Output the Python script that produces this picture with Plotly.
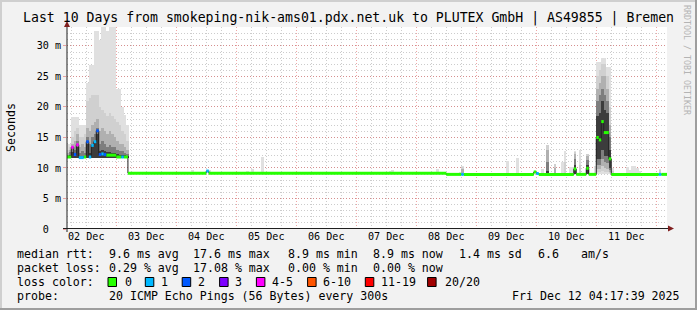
import plotly.graph_objects as go
import pandas as pd

# ---------------- data ----------------
t_start = "2025-12-02 04:17:39"
t_end = "2025-12-12 04:17:39"

title_text = "Last 10 Days from smokeping-nik-ams01.pdx.net.uk to PLUTEX GmbH | AS49855 | Bremen"

y_tickvals = [0, 5, 10, 15, 20, 25, 30]
y_ticktext = ["0\u00a0\u00a0", "5 m", "10 m", "15 m", "20 m", "25 m", "30 m"]

# median rtt (ms) as step segments: segment start, value, loss bucket
med_t = ["2025-12-02 04:00", "2025-12-02 06:00", "2025-12-02 07:00", "2025-12-02 08:00",
         "2025-12-02 09:00", "2025-12-02 11:00", "2025-12-02 12:00", "2025-12-02 13:00",
         "2025-12-02 14:00", "2025-12-02 15:00", "2025-12-02 16:00", "2025-12-02 17:00",
         "2025-12-02 18:00", "2025-12-02 19:00", "2025-12-02 20:00", "2025-12-03 00:00",
         "2025-12-03 02:00", "2025-12-03 03:00", "2025-12-03 04:40", "2025-12-04 12:00",
         "2025-12-04 13:00", "2025-12-08 12:00", "2025-12-08 18:00", "2025-12-08 19:00",
         "2025-12-09 23:00", "2025-12-10 00:00", "2025-12-10 01:00", "2025-12-10 15:00",
         "2025-12-10 16:00", "2025-12-10 20:00", "2025-12-10 21:00", "2025-12-11 00:00",
         "2025-12-11 01:00", "2025-12-11 02:00", "2025-12-11 03:00", "2025-12-11 05:00",
         "2025-12-11 06:00", "2025-12-12 01:00", "2025-12-12 02:00"]
med_v = [11.8, 13.4, 12.2, 13.8,
         11.7, 11.8, 14.3, 11.8,
         13.7, 14.3, 16.1, 12.2,
         12.3, 12.2, 12.1, 11.8,
         11.8, 11.8, 9.15, 9.5,
         9.15, 8.95, 8.95, 8.95,
         9.35, 9.1, 8.95, 9.85,
         8.95, 9.95, 8.95, 15.0,
         14.6, 17.6, 15.8, 11.5,
         8.95, 8.95, 8.95]
med_loss = ["0", "4-5", "2", "4-5",
            "1", "0", "2", "1",
            "1", "1", "2", "2",
            "1", "2", "0", "0",
            "1", "0", "0", "1",
            "0", "0", "1", "0",
            "0", "1", "0", "0",
            "0", "0", "0", "0",
            "0", "0", "0", "0",
            "0", "1", "0"]

# smoke (ping distribution) per hour: l1 = outermost band ... l5 = band nearest the median
smoke_t = ["2025-12-02 04:00", "2025-12-02 05:00", "2025-12-02 06:00", "2025-12-02 07:00",
           "2025-12-02 08:00", "2025-12-02 09:00", "2025-12-02 10:00", "2025-12-02 11:00",
           "2025-12-02 12:00", "2025-12-02 13:00", "2025-12-02 14:00", "2025-12-02 15:00",
           "2025-12-02 16:00", "2025-12-02 17:00", "2025-12-02 18:00", "2025-12-02 19:00",
           "2025-12-02 20:00", "2025-12-02 21:00", "2025-12-02 22:00", "2025-12-02 23:00",
           "2025-12-03 00:00", "2025-12-03 01:00", "2025-12-03 02:00", "2025-12-03 03:00",
           "2025-12-03 04:00",
           "2025-12-04 06:00", "2025-12-04 13:00", "2025-12-05 04:00", "2025-12-05 06:00",
           "2025-12-05 07:00", "2025-12-05 10:00", "2025-12-07 03:00", "2025-12-07 04:00",
           "2025-12-07 11:00", "2025-12-07 12:00", "2025-12-07 13:00", "2025-12-07 14:00",
           "2025-12-08 08:00", "2025-12-08 17:00", "2025-12-08 18:00", "2025-12-09 12:00",
           "2025-12-09 16:00", "2025-12-10 02:00", "2025-12-10 04:00", "2025-12-10 07:00",
           "2025-12-10 10:00", "2025-12-10 11:00", "2025-12-10 13:00", "2025-12-10 14:00",
           "2025-12-10 15:00", "2025-12-10 17:00", "2025-12-10 20:00", "2025-12-10 23:00",
           "2025-12-11 00:00", "2025-12-11 01:00", "2025-12-11 02:00", "2025-12-11 03:00",
           "2025-12-11 04:00", "2025-12-11 05:00", "2025-12-11 06:00",
           "2025-12-11 12:00", "2025-12-11 13:00", "2025-12-11 14:00", "2025-12-11 15:00",
           "2025-12-11 16:00", "2025-12-11 17:00", "2025-12-12 01:00"]
# fastest ping (bottom of the outermost band)
smoke_base = [11.7] * 25 + [9.15] * 12 + [8.95] * 30
# top of each band
smoke_l1 = [14.0, 14.0, 18.3, 18.3, 18.3, 17.0, 17.0, 17.0, 24.0, 26.8, 26.8, 32.5, 32.5,
            31.0, 33.1, 33.1, 32.5, 33.1, 33.1, 33.1, 23.0, 23.0, 20.0, 18.7, 17.0,
            9.6, 9.6, 9.5, 9.85, 9.4, 11.75, 9.4, 9.4, 9.4, 9.4, 9.5, 9.6,
            9.8, 9.3, 10.4, 11.1, 11.6, 9.8, 13.7, 10.7, 10.9, 12.8, 10.2, 10.2,
            12.8, 13.0, 12.3, 10.4, 27.3, 27.3, 28.1, 28.1, 26.5, 26.5, 10.0,
            10.1, 9.6, 10.4, 10.4, 9.95, 9.5, 9.85]
smoke_l2 = [13.0, 13.5, 15.0, 16.0, 16.5, 15.0, 15.0, 15.5, 21.0, 21.5, 22.0, 22.0, 22.0,
            20.0, 19.5, 19.0, 18.5, 19.0, 18.5, 18.0, 17.5, 17.0, 16.0, 15.5, 14.5,
            None, None, None, None, None, None, None, None, None, None, None, None,
            None, None, 10.2, None, None, None, 13.7, 10.7, None, 11.0, None, None,
            12.7, 10.5, 12.3, None, 25.0, 26.0, 27.0, 27.0, 25.0, 20.0, 9.5,
            None, None, None, None, None, None, 9.7]
smoke_l3 = [12.5, 13.0, 14.0, 14.5, 15.5, 13.5, 14.0, 13.5, 16.5, 16.0, 17.0, 17.5, 18.0,
            16.0, 16.5, 16.0, 15.5, 16.0, 15.5, 15.0, 14.5, 14.0, 14.0, 13.5, 13.0,
            None, None, None, None, None, None, None, None, None, None, None, None,
            None, None, 9.8, None, None, None, 13.0, 10.0, None, None, None, None,
            12.3, None, 12.0, None, 23.0, 24.0, 25.0, 25.0, 23.0, 17.0, None,
            None, None, None, None, None, None, None]
smoke_l4 = [12.2, 12.6, 13.4, 13.0, 14.5, 12.5, 12.8, 12.5, 15.0, 14.0, 15.0, 15.5, 16.5,
            14.0, 14.5, 14.0, 13.5, 13.8, 13.5, 13.5, 13.0, 12.8, 12.8, 12.5, 12.3,
            None, None, None, None, None, None, None, None, None, None, None, None,
            None, None, None, None, None, None, 11.0, None, None, None, None, None,
            11.5, None, 11.3, None, 21.0, 22.0, 23.0, 22.0, 21.0, 15.0, None,
            None, None, None, None, None, None, None]
smoke_l5 = [12.0, 12.2, 12.6, 12.3, 13.5, 12.0, 12.0, 12.0, 14.0, 12.5, 13.8, 14.3, 15.5,
            12.8, 13.0, 12.8, 12.6, 12.6, 12.5, 12.4, 12.3, 12.2, 12.2, 12.1, 12.0,
            None, None, None, None, None, None, None, None, None, None, None, None,
            None, None, None, None, None, None, 9.5, None, None, None, None, None,
            10.5, None, 10.5, None, 18.5, 19.0, 21.0, 19.5, 19.0, 13.0, None,
            None, None, None, None, None, None, None]
# bottom of the inner bands where it sits above the fastest ping (None = fastest ping)
smoke_lo2 = [None] * 53 + [9.3, 9.3, 9.5, 9.4, 9.3, 9.1] + [None] * 8
smoke_lo3 = [None] * 53 + [9.8, 9.8, 10.3, 10.0, 9.8, 9.3] + [None] * 8
smoke_lo4 = [None] * 53 + [10.5, 10.5, 11.5, 11.0, 10.8, 9.6] + [None] * 8
smoke_lo5 = [None] * 53 + [11.5, 11.5, 13.0, 12.0, 12.0, 10.0] + [None] * 8

loss_labels = ["0", "1", "2", "3", "4-5", "6-10", "11-19", "20/20"]
loss_colors = ["#26ff00", "#00b8ff", "#0059ff", "#7e00ff", "#ff00ff", "#ff5500", "#ff0000", "#a10000"]

legend_rtt = [("median rtt:", 15.6), ("9.6 ms avg", 107.6), ("17.6 ms max", 192.4),
              ("8.9 ms min", 286.7), ("8.9 ms now", 372.4), ("1.4 ms sd", 457.8),
              ("6.6", 536.9), ("am/s", 580.0)]
legend_loss = [("packet loss:", 15.6), ("0.29 % avg", 107.6), ("17.08 % max", 192.4),
               ("0.00 % min", 286.7), ("0.00 % now", 372.4)]
probe_text = "20 ICMP Echo Pings (56 Bytes) every 300s"
date_text = "Fri Dec 12 04:17:39 2025"
watermark = "RRDTOOL / TOBI OETIKER"

# ---------------- layout geometry ----------------
W, H = 697, 310
PL, PR, PT, PB = 67, 667, 27, 229
def px(x):
    return (x - PL) / (PR - PL)
def py(y):
    return (PB - y) / (PB - PT)

MONO = "DejaVu Sans Mono"
fig = go.Figure()

# smoke
smoke_colors = ["#e0e0e0", "#d0d0d0", "#b0b0b0", "#7e7e7e", "#3c3c3c"]
centers = pd.to_datetime(pd.Series(smoke_t), format="ISO8601") + pd.Timedelta(minutes=30)
levels = [(smoke_l1, [None] * len(smoke_t)), (smoke_l2, smoke_lo2), (smoke_l3, smoke_lo3),
          (smoke_l4, smoke_lo4), (smoke_l5, smoke_lo5)]
for (hi, lo), col in zip(levels, smoke_colors):
    bottoms = [b if l is None else l for l, b in zip(lo, smoke_base)]
    hts = [None if v is None else v - b for v, b in zip(hi, bottoms)]
    fig.add_trace(go.Bar(x=centers, y=hts, base=bottoms, width=3600 * 1000,
                         marker=dict(color=col, line=dict(width=0)), showlegend=False,
                         hoverinfo="skip"))

# median dark line
mt = list(pd.to_datetime(pd.Series(med_t + [t_end]), format="ISO8601"))
fig.add_trace(go.Scatter(x=mt, y=med_v + [med_v[-1]], mode="lines",
                         line=dict(color="#202020", width=1, shape="hv"),
                         showlegend=False, hoverinfo="skip"))

# loss coloured median segments
for lab, col in zip(loss_labels, loss_colors):
    xs, ys = [], []
    for i, ls in enumerate(med_loss):
        if ls == lab:
            xs += [mt[i], mt[i + 1], None]
            ys += [med_v[i], med_v[i], None]
    if xs:
        fig.add_trace(go.Scatter(x=xs, y=ys, mode="lines", line=dict(color=col, width=3),
                                 showlegend=False, hoverinfo="skip"))

grid_minor = "rgba(143,143,143,0.45)"
grid_major = "rgba(222,79,79,0.5)"

fig.update_layout(
    width=W, height=H,
    margin=dict(l=PL, r=W - PR, t=PT, b=H - PB),
    paper_bgcolor="#f2f2f2", plot_bgcolor="#ffffff",
    barmode="overlay", bargap=0,
    showlegend=False,
    xaxis=dict(type="date", range=[t_start, t_end], tick0="2025-12-02", dtick=86400000,
               tickformat="%d %b", ticklabelmode="period", showgrid=True,
               gridcolor=grid_major, griddash="1px,2px", gridwidth=1, zeroline=False,
               showline=False, ticks="", tickfont=dict(family=MONO, size=10.1, color="#000"),
               minor=dict(tick0="2025-12-02", dtick=6 * 3600 * 1000, showgrid=True,
                          gridcolor=grid_minor, griddash="1px,2px", gridwidth=1)),
    yaxis=dict(range=[0, 33.1], tickmode="array", tickvals=y_tickvals, ticktext=y_ticktext,
               showgrid=True, gridcolor=grid_major, griddash="1px,2px", gridwidth=1,
               zeroline=False, showline=False, ticks="outside", ticklen=3,
               tickcolor=grid_major,
               tickfont=dict(family=MONO, size=10.1, color="#000"),
               minor=dict(dtick=1, tick0=0, showgrid=True, gridcolor=grid_minor,
                          griddash="1px,2px", gridwidth=1)),
)

shapes = []
axis_col = "#1f1f1f"
arrow_col = "#801f1f"
# axes lines
shapes.append(dict(type="line", xref="paper", yref="paper", x0=px(63), x1=px(670),
                   y0=py(228.5), y1=py(228.5), line=dict(color=axis_col, width=1)))
shapes.append(dict(type="line", xref="paper", yref="paper", x0=px(67), x1=px(67),
                   y0=py(232), y1=py(24), line=dict(color=axis_col, width=1)))
# arrows
shapes.append(dict(type="path", xref="paper", yref="paper",
                   path=f"M {px(668)} {py(225.5)} L {px(674)} {py(228.5)} L {px(668)} {py(231.5)} Z",
                   fillcolor=arrow_col, line=dict(color=arrow_col, width=0)))
shapes.append(dict(type="path", xref="paper", yref="paper",
                   path=f"M {px(64)} {py(27)} L {px(67)} {py(21)} L {px(70)} {py(27)} Z",
                   fillcolor=arrow_col, line=dict(color=arrow_col, width=0)))
# frame shading
shapes.append(dict(type="rect", xref="paper", yref="paper", x0=px(0), x1=px(697), y0=py(0), y1=py(2),
                   fillcolor="#cfcfcf", line=dict(width=0)))
shapes.append(dict(type="rect", xref="paper", yref="paper", x0=px(0), x1=px(2), y0=py(0), y1=py(310),
                   fillcolor="#cfcfcf", line=dict(width=0)))
shapes.append(dict(type="rect", xref="paper", yref="paper", x0=px(0), x1=px(697), y0=py(308), y1=py(310),
                   fillcolor="#9e9e9e", line=dict(width=0)))
shapes.append(dict(type="rect", xref="paper", yref="paper", x0=px(695), x1=px(697), y0=py(0), y1=py(310),
                   fillcolor="#9e9e9e", line=dict(width=0)))

annotations = []
def text(s, x, y, size=11.6, anchor="left", color="#000", angle=0):
    annotations.append(dict(text=s, xref="paper", yref="paper", x=px(x), y=py(y),
                            xanchor=anchor, yanchor="middle", showarrow=False,
                            textangle=angle, borderpad=0,
                            font=dict(family=MONO, size=size, color=color)))

text(title_text, 348.5, 18.5, size=13.2, anchor="center")
text("Seconds", 11, 128, size=11.6, anchor="center", angle=-90)
text(watermark, 687, 60, size=8.3, anchor="center", color="#b4b4b4", angle=90)

row_y = [254, 268, 282, 296]
for s, x in legend_rtt:
    text(s, x, row_y[0])
for s, x in legend_loss:
    text(s, x, row_y[1])
text("loss color:", 15.6, row_y[2])
box_x = [108, 145.3, 182.2, 219.6, 256.4, 307.6, 365.3, 427.6]
lab_x = [123.6, 160, 196.9, 234.2, 271, 322.2, 380, 444.4]
for lab, col, bx, lx in zip(loss_labels, loss_colors, box_x, lab_x):
    shapes.append(dict(type="rect", xref="paper", yref="paper", x0=px(bx), x1=px(bx + 8.5),
                       y0=py(277.5), y1=py(286.5), fillcolor=col,
                       line=dict(color="#000", width=1)))
    text(lab, lx, row_y[2])
text("probe:", 15.6, row_y[3])
text(probe_text, 107.6, row_y[3])
text(date_text, 680.5, row_y[3], anchor="right")

fig.update_layout(shapes=shapes, annotations=annotations)
fig.write_html("out.html")
